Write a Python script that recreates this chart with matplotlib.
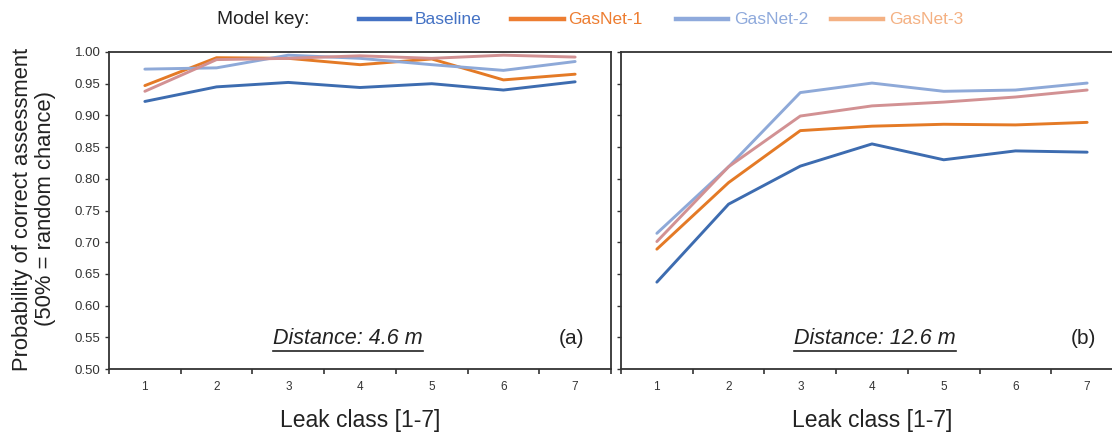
import matplotlib
matplotlib.use("Agg")
import matplotlib.pyplot as plt
from matplotlib.lines import Line2D

plt.rcParams['font.family'] = ['Liberation Sans', 'DejaVu Sans']

# ---------------- data ----------------
leak_classes = [1, 2, 3, 4, 5, 6, 7]
series_names = ["Baseline", "GasNet-1", "GasNet-2", "GasNet-3"]

near_baseline = [0.922, 0.945, 0.952, 0.944, 0.950, 0.940, 0.953]
near_gasnet1 = [0.947, 0.991, 0.990, 0.980, 0.989, 0.956, 0.965]
near_gasnet2 = [0.973, 0.975, 0.995, 0.990, 0.980, 0.971, 0.985]
near_gasnet3 = [0.938, 0.988, 0.990, 0.994, 0.990, 0.995, 0.992]

far_baseline = [0.637, 0.760, 0.820, 0.855, 0.830, 0.844, 0.842]
far_gasnet1 = [0.689, 0.794, 0.876, 0.883, 0.886, 0.885, 0.889]
far_gasnet2 = [0.714, 0.819, 0.936, 0.951, 0.938, 0.940, 0.951]
far_gasnet3 = [0.701, 0.819, 0.899, 0.915, 0.921, 0.929, 0.940]

y_ticks = [0.50, 0.55, 0.60, 0.65, 0.70, 0.75, 0.80, 0.85, 0.90, 0.95, 1.00]
panel_titles = ["Distance: 4.6 m", "Distance: 12.6 m"]
panel_tags = ["(a)", "(b)"]

# ---------------- style ----------------
line_colors = ["#3D6CB0", "#E47A26", "#8EA9D8", "#D29193"]
key_colors = ["#4472C4", "#ED7D31", "#8FAADC", "#F4B183"]
spine_col = "#333333"

W, H = 1112, 433
fig = plt.figure(figsize=(W / 100, H / 100), dpi=100)

def px_rect(x0, y0, x1, y1):
    return [x0 / W, 1 - y1 / H, (x1 - x0) / W, (y1 - y0) / H]

ax_a = fig.add_axes(px_rect(109, 52, 611, 369))
ax_b = fig.add_axes(px_rect(621, 52, 1123, 369))

panels = [
    (ax_a, [near_baseline, near_gasnet1, near_gasnet2, near_gasnet3]),
    (ax_b, [far_baseline, far_gasnet1, far_gasnet2, far_gasnet3]),
]

fig.canvas.draw()
for i, (ax, series) in enumerate(panels):
    for vals, col in zip(series, line_colors):
        ax.plot(leak_classes, vals, color=col, lw=2.1, solid_capstyle='round')
    ax.set_xlim(0.5, 7.5)
    ax.set_ylim(0.5, 1.0)
    ax.set_yticks(y_ticks)
    ax.set_xticks(leak_classes)
    ax.set_xticks([c + 0.5 for c in leak_classes[:-1]] + [0.5, 7.5], minor=True)
    ax.tick_params(axis='x', which='major', length=0, pad=9, labelsize=8.5, labelcolor='#333333')
    ax.tick_params(axis='x', which='minor', length=3.5, width=1.2, color=spine_col, direction='out')
    ax.tick_params(axis='y', which='major', length=3, width=1.0, color=spine_col, direction='out',
                   labelsize=9.5, labelcolor='#333333', pad=3)
    if i == 0:
        ax.set_yticklabels([f"{v:.2f}" for v in y_ticks])
    else:
        ax.set_yticklabels([])
    for s in ax.spines.values():
        s.set_color(spine_col)
        s.set_linewidth(1.3)
    ax.set_xlabel("Leak class [1-7]", fontsize=16.5, color='#222222', labelpad=11)
    t = ax.text(0.476 if i == 0 else 0.506, 0.095, panel_titles[i], transform=ax.transAxes,
                ha='center', va='center', fontsize=15.5, style='italic', color='#222222')
    ax.text(0.922, 0.095, panel_tags[i], transform=ax.transAxes,
            ha='center', va='center', fontsize=15, color='#222222')
    fig.canvas.draw()
    bb = t.get_window_extent()
    yline = bb.y0 - 2
    fig.add_artist(Line2D([bb.x0 / W, bb.x1 / W], [yline / H, yline / H],
                          color='#222222', lw=1.2, transform=fig.transFigure))

# y label
fig.text(34 / W, 1 - 209 / H, "Probability of correct assessment\n(50% = random chance)",
         rotation=90, ha='center', va='center', fontsize=15.8, color='#222222', linespacing=1.12)

# model key
ky = 1 - 19 / H
fig.text(217 / W, ky, "Model key:", ha='left', va='center', fontsize=13.8, color='#222222')
key_pos = [(359, 410, 415), (511, 564, 568), (676, 728, 734), (831, 883, 889)]
for name, col, (l0, l1, tx) in zip(series_names, key_colors, key_pos):
    fig.add_artist(Line2D([l0 / W, l1 / W], [ky, ky], color=col, lw=3.2, transform=fig.transFigure))
    fig.text(tx / W, ky, name, ha='left', va='center', fontsize=12.5, color=col)

fig.savefig("out.png", dpi=100)
